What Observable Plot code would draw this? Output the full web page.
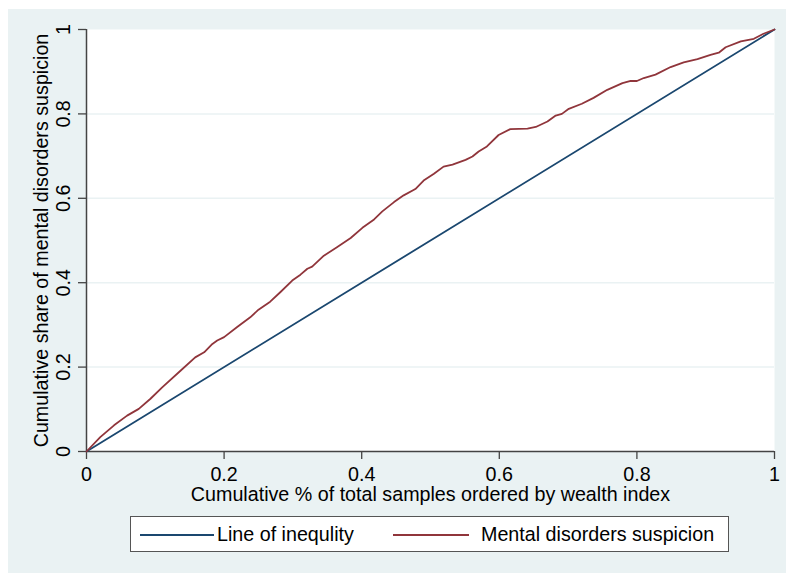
<!DOCTYPE html>
<html>
<head>
<meta charset="utf-8">
<script src="https://cdn.jsdelivr.net/npm/d3@7"></script>
<script src="https://cdn.jsdelivr.net/npm/@observablehq/plot@0.6"></script>
<style>
  html, body { margin: 0; padding: 0; background: #ffffff; }
  body { width: 786px; height: 574px; overflow: hidden; position: relative; }
  #outer { position: absolute; left: 8px; top: 9px; width: 778px; height: 564px; background: #EAF2F3; }
  #chart { position: absolute; left: 0; top: 0; }
  #legend { position: absolute; left: 122px; top: 507px; width: 597px; height: 34px; background: #ffffff;
            border: 1px solid #555; font-family: "Liberation Sans", Arial, sans-serif; font-size: 19.7px; color: #000; }
  .item { position: absolute; top: 0; height: 34px; line-height: 34px; white-space: nowrap; }
  .swatch { position: absolute; height: 0; border-top: 2px solid; top: 17px; }
</style>
</head>
<body>
<div id="outer">
  <div id="chart"></div>
  <div id="legend"></div>
</div>
<script>
// Red curve (concentration curve): cumulative % of samples vs cumulative share
const curveX = [0, 0.02, 0.04, 0.059, 0.076, 0.093, 0.110, 0.137, 0.158, 0.171, 0.183, 0.190, 0.200, 0.219, 0.238, 0.250, 0.267, 0.282, 0.299, 0.311, 0.321, 0.328, 0.345, 0.364, 0.384, 0.401, 0.418, 0.430, 0.447, 0.461, 0.478, 0.490, 0.505, 0.519, 0.532, 0.551, 0.561, 0.570, 0.582, 0.599, 0.616, 0.641, 0.653, 0.670, 0.682, 0.691, 0.701, 0.720, 0.737, 0.757, 0.779, 0.791, 0.800, 0.810, 0.827, 0.849, 0.868, 0.888, 0.907, 0.919, 0.929, 0.951, 0.970, 0.984, 1.0];
const curveY = [0, 0.034, 0.062, 0.085, 0.101, 0.125, 0.152, 0.192, 0.223, 0.235, 0.255, 0.263, 0.271, 0.295, 0.318, 0.336, 0.355, 0.378, 0.405, 0.419, 0.433, 0.438, 0.464, 0.484, 0.506, 0.530, 0.550, 0.569, 0.591, 0.607, 0.622, 0.642, 0.658, 0.675, 0.680, 0.691, 0.699, 0.711, 0.723, 0.750, 0.764, 0.765, 0.769, 0.782, 0.796, 0.800, 0.812, 0.824, 0.838, 0.857, 0.873, 0.878, 0.878, 0.885, 0.893, 0.911, 0.922, 0.930, 0.940, 0.945, 0.958, 0.972, 0.978, 0.990, 1.0];
// Line of equality
const equalityX = [0, 1];
const equalityY = [0, 1];
// Ticks
const tickValues = [0, 0.2, 0.4, 0.6, 0.8, 1];
const tickLabels = ["0", "0.2", "0.4", "0.6", "0.8", "1"];
const gridValues = [0.2, 0.4, 0.6, 0.8];
// Labels
const xTitle = "Cumulative % of total samples ordered by wealth index";
const yTitle = "Cumulative share of mental disorders suspicion";
const seriesNames = ["Line of inequlity", "Mental disorders suspicion"];
const seriesColors = ["#1a476f", "#90353b"];

const curve = curveX.map((x, i) => ({x, y: curveY[i]}));
const equality = equalityX.map((x, i) => ({x, y: equalityY[i]}));
const fmt = d => tickLabels[tickValues.indexOf(d)];

const axisColor = "#444";
const chart = Plot.plot({
  width: 778,
  height: 500,
  marginLeft: 78,
  marginRight: 12,
  marginTop: 20,
  marginBottom: 58,
  style: {background: "transparent", fontFamily: "'Liberation Sans', Arial, sans-serif", fontSize: "19.7px", color: "#000", overflow: "visible"},
  x: {domain: [0, 1]},
  y: {domain: [0, 1]},
  marks: [
    Plot.frame({fill: "white", stroke: null}),
    Plot.gridY(gridValues, {stroke: "#EAF2F3", strokeOpacity: 1, strokeWidth: 1.5}),
    Plot.axisX(tickValues, {tickFormat: fmt, tickSize: 8, tickPadding: 7, stroke: axisColor, strokeWidth: 1.3,
      label: xTitle, labelAnchor: "center", labelArrow: "none", labelOffset: 49, fill: "#000"}),
    Plot.axisY(tickValues, {tickFormat: fmt, tickSize: 8, tickPadding: 9, tickRotate: -90, stroke: axisColor, strokeWidth: 1.3,
      label: yTitle, labelAnchor: "center", labelArrow: "none", labelOffset: 53, fill: "#000"}),
    Plot.ruleX([0], {stroke: axisColor, strokeWidth: 1.5}),
    Plot.ruleY([0], {stroke: axisColor, strokeWidth: 1.5}),
    Plot.line(equality, {x: "x", y: "y", stroke: seriesColors[0], strokeWidth: 1.8}),
    Plot.line(curve, {x: "x", y: "y", stroke: seriesColors[1], strokeWidth: 1.8})
  ]
});
document.getElementById("chart").appendChild(chart);

// Legend
const legend = document.getElementById("legend");
const items = [
  {sx: 9, sw: 74, tx: 86},
  {sx: 262, sw: 76, tx: 350}
];
seriesNames.forEach((name, i) => {
  const sw = document.createElement("div");
  sw.className = "swatch";
  sw.style.left = items[i].sx + "px";
  sw.style.width = items[i].sw + "px";
  sw.style.borderColor = seriesColors[i];
  legend.appendChild(sw);
  const t = document.createElement("div");
  t.className = "item";
  t.style.left = items[i].tx + "px";
  t.textContent = name;
  legend.appendChild(t);
});
</script>
</body>
</html>
